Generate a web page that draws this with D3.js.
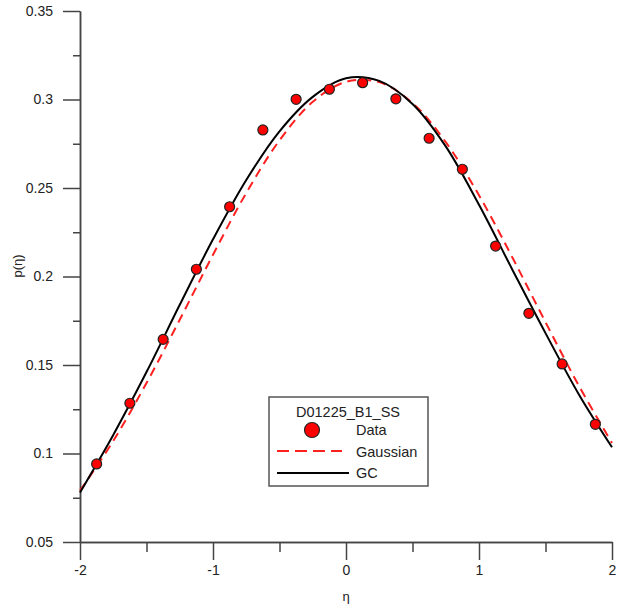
<!DOCTYPE html>
<html>
<head>
<meta charset="utf-8">
<script src="https://cdn.jsdelivr.net/npm/d3@7"></script>
<style>
  html, body { margin: 0; padding: 0; background: #fff; }
  svg { display: block; font-family: "Liberation Sans", Arial, sans-serif; }
</style>
</head>
<body>
<svg id="chart" width="628" height="605"></svg>
<script>
// Measured density p(eta), one point per bin
const dataEta = [-1.875, -1.625, -1.375, -1.125, -0.875, -0.625, -0.375, -0.125,
                 0.125, 0.375, 0.625, 0.875, 1.125, 1.375, 1.625, 1.875];
const dataP   = [0.0941, 0.1284, 0.1645, 0.2041, 0.2394, 0.2828, 0.3001, 0.3058,
                 0.3095, 0.3004, 0.2781, 0.2606, 0.2172, 0.1792, 0.1506, 0.1165];

// Fitted curves sampled on a regular eta grid
const curveEta  = [-2, -1.75, -1.5, -1.25, -1, -0.75, -0.5, -0.25, 0,
                   0.25, 0.5, 0.75, 1, 1.25, 1.5, 1.75, 2];
const gaussianP = [0.0790, 0.1071, 0.1398, 0.1756, 0.2123, 0.2472, 0.2769, 0.2987, 0.3100,
                   0.3098, 0.2980, 0.2759, 0.2459, 0.2109, 0.1742, 0.1384, 0.1059];
const gcP       = [0.0780, 0.1105, 0.1460, 0.1840, 0.2210, 0.2545, 0.2820, 0.3015, 0.3120,
                   0.3105, 0.2975, 0.2735, 0.2405, 0.2040, 0.1680, 0.1335, 0.1035];

// Axis ticks
const xMajorTicks = [-2, -1, 0, 1, 2];
const xMinorTicks = [-1.5, -0.5, 0.5, 1.5];
const yMajorTicks = [0.05, 0.1, 0.15, 0.2, 0.25, 0.3, 0.35];
const yMinorTicks = [0.075, 0.125, 0.175, 0.225, 0.275, 0.325];
const xTickLabels = ["-2", "-1", "0", "1", "2"];
const yTickLabels = ["0.05", "0.1", "0.15", "0.2", "0.25", "0.3", "0.35"];

const legendTitle = "D01225_B1_SS";
const legendNames = ["Data", "Gaussian", "GC"];

const svg = d3.select("#chart");
const x = d3.scaleLinear().domain([-2, 2]).range([80, 612]);
const y = d3.scaleLinear().domain([0.05, 0.35]).range([542, 11]);

const axisColor = "#444";
const textColor = "#222";

function styleAxis(g) {
  g.selectAll("path.domain").attr("stroke", axisColor).attr("stroke-width", 1.5);
  g.selectAll(".tick line").attr("stroke", axisColor).attr("stroke-width", 1.5);
  g.selectAll(".tick text").attr("fill", textColor)
    .style("font-family", "'Liberation Sans', Arial, sans-serif").style("font-size", "14px");
}

// Minor ticks first, majors on top
svg.append("g").attr("transform", `translate(0,${y(0.05)})`)
  .call(d3.axisBottom(x).tickValues(xMinorTicks).tickSize(10).tickSizeOuter(0).tickFormat(""))
  .call(styleAxis);
svg.append("g").attr("transform", `translate(${x(-2)},0)`)
  .call(d3.axisLeft(y).tickValues(yMinorTicks).tickSize(7).tickSizeOuter(0).tickFormat(""))
  .call(styleAxis);

svg.append("g").attr("transform", `translate(0,${y(0.05)})`)
  .call(d3.axisBottom(x).tickValues(xMajorTicks).tickSize(18).tickSizeOuter(0)
        .tickPadding(5).tickFormat((d, i) => xTickLabels[i]))
  .call(styleAxis);
svg.append("g").attr("transform", `translate(${x(-2)},0)`)
  .call(d3.axisLeft(y).tickValues(yMajorTicks).tickSize(17).tickSizeOuter(0)
        .tickPadding(10).tickFormat((d, i) => yTickLabels[i]))
  .call(styleAxis);

// Axis titles
svg.append("text")
  .attr("x", x(0)).attr("y", 601)
  .attr("text-anchor", "middle")
  .attr("fill", textColor).style("font-size", "13px")
  .text("η");
svg.append("text")
  .attr("transform", "translate(22,266) rotate(-90)")
  .attr("text-anchor", "middle")
  .attr("fill", textColor).style("font-size", "13px")
  .text("p(η)");

// Fitted curves
const line = d3.line().x(d => x(d[0])).y(d => y(d[1])).curve(d3.curveCatmullRom.alpha(0.5));

svg.append("path")
  .datum(curveEta.map((e, i) => [e, gaussianP[i]]))
  .attr("d", line)
  .attr("fill", "none")
  .attr("stroke", "#ff2020")
  .attr("stroke-width", 2)
  .attr("stroke-dasharray", "9,6");

svg.append("path")
  .datum(curveEta.map((e, i) => [e, gcP[i]]))
  .attr("d", line)
  .attr("fill", "none")
  .attr("stroke", "#000")
  .attr("stroke-width", 2);

// Data points
svg.append("g").selectAll("circle")
  .data(dataEta.map((e, i) => [e, dataP[i]]))
  .join("circle")
  .attr("cx", d => x(d[0]))
  .attr("cy", d => y(d[1]))
  .attr("r", 5)
  .attr("fill", "#ff0000")
  .attr("stroke", "#222")
  .attr("stroke-width", 1.2);

// Legend
const lg = svg.append("g");
lg.append("rect")
  .attr("x", 269).attr("y", 397).attr("width", 159).attr("height", 89)
  .attr("fill", "#fff").attr("stroke", "#555").attr("stroke-width", 1.5);
lg.append("text")
  .attr("x", 348).attr("y", 417).attr("text-anchor", "middle")
  .attr("fill", textColor).style("font-size", "14.5px")
  .text(legendTitle);
lg.append("circle")
  .attr("cx", 312).attr("cy", 430).attr("r", 7.5)
  .attr("fill", "#ff0000").attr("stroke", "#222").attr("stroke-width", 1.2);
lg.append("line")
  .attr("x1", 277).attr("x2", 342).attr("y1", 451).attr("y2", 451)
  .attr("stroke", "#ff2020").attr("stroke-width", 2).attr("stroke-dasharray", "12,6");
lg.append("line")
  .attr("x1", 277).attr("x2", 349).attr("y1", 473).attr("y2", 473)
  .attr("stroke", "#000").attr("stroke-width", 2);
const legendBaselines = [435, 456.5, 478];
legendNames.forEach((name, i) => {
  lg.append("text")
    .attr("x", 356).attr("y", legendBaselines[i])
    .attr("fill", textColor).style("font-size", "14.5px")
    .text(name);
});
</script>
</body>
</html>
